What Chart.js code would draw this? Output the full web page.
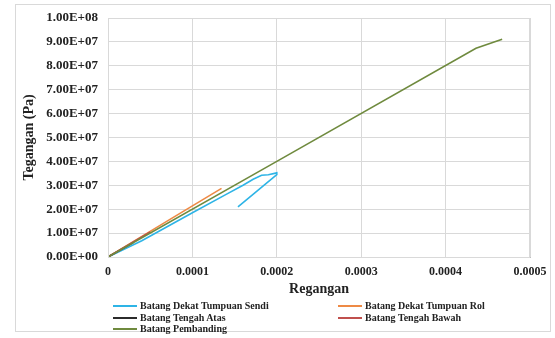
<!DOCTYPE html>
<html>
<head>
<meta charset="utf-8">
<script src="https://cdn.jsdelivr.net/npm/chart.js@4.4.1/dist/chart.umd.min.js"></script>
<style>
  html, body { margin: 0; padding: 0; background: #fff; }
  #wrap { position: relative; width: 555px; height: 338px; overflow: hidden; }
  #frame { position: absolute; left: 15px; top: 4px; width: 536px; height: 328px; border: 1px solid #d9d9d9; box-sizing: border-box; }
  canvas { position: absolute; left: 0; top: 0; }
  .leg { position: absolute; font: bold 10px "Liberation Serif", "Times New Roman", serif; color: #222; white-space: nowrap; line-height: 12px; }
  .leg i { position: absolute; top: 5px; width: 24px; height: 0; border-top: 2px solid; }
  .leg span { position: absolute; left: 27px; top: 0; }
</style>
</head>
<body>
<div id="wrap">
  <div id="frame"></div>
  <canvas id="c" width="555" height="338"></canvas>
  <div id="legend"></div>
</div>
<script>
// Strain (Regangan) / stress (Tegangan, Pa) readings per member
const seriesNames = [
  "Batang Dekat Tumpuan Sendi",
  "Batang Dekat Tumpuan Rol",
  "Batang Tengah Atas",
  "Batang Tengah Bawah",
  "Batang Pembanding"
];
const seriesColors = ["#2EB4E6", "#EE8A45", "#2B2B2B", "#C0504D", "#6F8A3E"];

const sendiStrain = [0, 0.00004, 0.0001, 0.00014, 0.00016, 0.000172, 0.000182, 0.00019, 0.0002, 0.0002, 0.000154];
const sendiStress = [0, 0.68e7, 1.85e7, 2.62e7, 3.0e7, 3.25e7, 3.42e7, 3.44e7, 3.52e7, 3.45e7, 2.1e7];

const rolStrain = [0, 0.00007, 0.0001345];
const rolStress = [0, 1.5e7, 2.87e7];

const atasStrain = [0, 0.00003];
const atasStress = [0, 0.6e7];

const bawahStrain = [0, 0.00005];
const bawahStress = [0, 1.05e7];

const pembandingStrain = [0, 0.0002, 0.000436, 0.000467];
const pembandingStress = [0, 4.0e7, 8.73e7, 9.11e7];

const xTicks = [0, 0.0001, 0.0002, 0.0003, 0.0004, 0.0005];
const xTickLabels = ["0", "0.0001", "0.0002", "0.0003", "0.0004", "0.0005"];
const yTickLabels = ["0.00E+00", "1.00E+07", "2.00E+07", "3.00E+07", "4.00E+07",
                     "5.00E+07", "6.00E+07", "7.00E+07", "8.00E+07", "9.00E+07", "1.00E+08"];

const strains = [sendiStrain, rolStrain, atasStrain, bawahStrain, pembandingStrain];
const stresses = [sendiStress, rolStress, atasStress, bawahStress, pembandingStress];
const drawOrder = [5, 4, 3, 2, 1];

const datasets = seriesNames.map((name, i) => ({
  label: name,
  data: strains[i].map((x, k) => ({ x: x, y: stresses[i][k] })),
  borderColor: seriesColors[i],
  backgroundColor: seriesColors[i],
  borderWidth: 1.6,
  showLine: true,
  pointRadius: 0,
  tension: 0,
  order: drawOrder[i]
}));

const serif = "'Liberation Serif', 'Times New Roman', serif";

new Chart(document.getElementById("c"), {
  type: "scatter",
  data: { datasets },
  options: {
    responsive: false,
    animation: false,
    devicePixelRatio: 1,
    layout: { padding: { left: 0, right: 25, top: 18, bottom: 39 } },
    plugins: { legend: { display: false }, tooltip: { enabled: false } },
    scales: {
      x: {
        type: "linear",
        min: 0, max: 0.0005,
        afterFit: s => { s.height = 42; },
        afterBuildTicks: s => { s.ticks = xTicks.map(v => ({ value: v })); },
        ticks: {
          padding: 8,
          color: "#222",
          font: { family: serif, size: 12, weight: "bold" },
          callback: (v) => { const i = xTicks.findIndex(t => Math.abs(t - v) < 1e-9); return i >= 0 ? xTickLabels[i] : ""; }
        },
        grid: { color: "#d9d9d9", drawTicks: false, lineWidth: 1 },
        border: { color: "#bfbfbf" },
        title: { display: true, text: "Regangan", color: "#222", padding: { top: 0, bottom: 1 },
                 font: { family: serif, size: 14, weight: "bold" } }
      },
      y: {
        type: "linear",
        min: 0, max: 1e8,
        afterFit: s => { s.width = 108; },
        ticks: {
          stepSize: 1e7,
          padding: 10,
          color: "#222",
          font: { family: serif, size: 13, weight: "bold" },
          callback: (v) => yTickLabels[Math.round(v / 1e7)]
        },
        grid: { color: "#d9d9d9", drawTicks: false, lineWidth: 1 },
        border: { color: "#bfbfbf" },
        title: { display: true, text: "Tegangan (Pa)", color: "#222", padding: { top: 21, bottom: 0 },
                 font: { family: serif, size: 14, weight: "bold" } }
      }
    }
  },
  plugins: [{
    id: "plotFrame",
    afterDraw(chart) {
      const { ctx, chartArea: a } = chart;
      ctx.save();
      ctx.strokeStyle = "#d9d9d9";
      ctx.lineWidth = 1;
      ctx.strokeRect(a.left + 0.5, a.top + 0.5, a.right - a.left - 1, a.bottom - a.top);
      ctx.restore();
    }
  }]
});

// Legend in two columns under the axis title
const legendPos = [[113, 300], [338, 300], [113, 312], [338, 312], [113, 323]];
const legend = document.getElementById("legend");
seriesNames.forEach((name, i) => {
  const d = document.createElement("div");
  d.className = "leg";
  d.style.left = legendPos[i][0] + "px";
  d.style.top = legendPos[i][1] + "px";
  d.innerHTML = '<i style="border-color:' + seriesColors[i] + '"></i><span></span>';
  d.querySelector("span").textContent = name;
  legend.appendChild(d);
});
</script>
</body>
</html>
